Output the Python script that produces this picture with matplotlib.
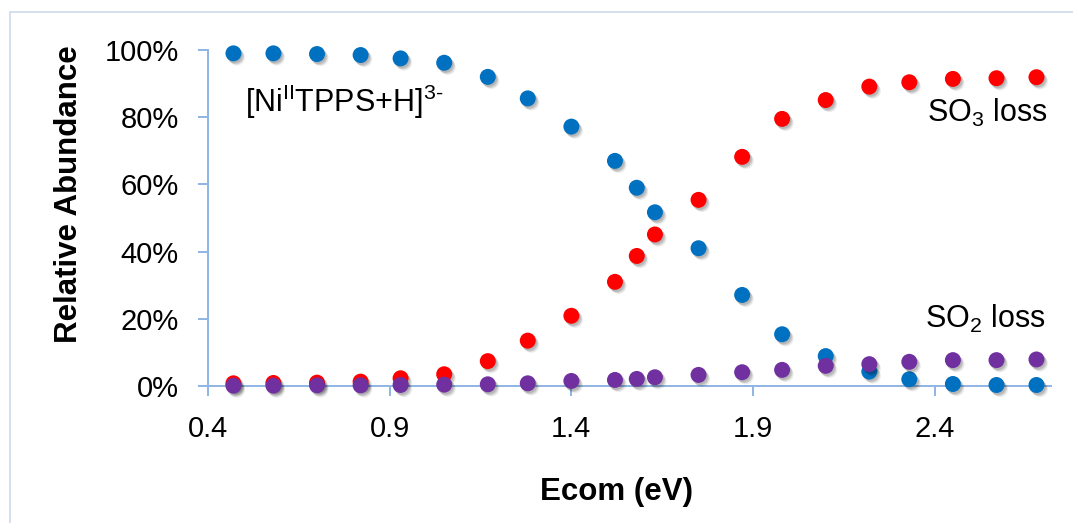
import matplotlib
matplotlib.use("Agg")
import matplotlib.pyplot as plt
import matplotlib.patheffects as pe
from matplotlib.ticker import PercentFormatter, FixedLocator, MultipleLocator
from matplotlib.patches import Rectangle

plt.rcParams["font.family"] = ["Liberation Sans", "DejaVu Sans"]
plt.rcParams["mathtext.fontset"] = "custom"
plt.rcParams["mathtext.rm"] = "Liberation Sans"
plt.rcParams["mathtext.it"] = "Liberation Sans"

# Collision energy (eV)
ecom = [0.47, 0.58, 0.70, 0.82, 0.93, 1.05, 1.17, 1.28, 1.40, 1.52, 1.58,
        1.63, 1.75, 1.87, 1.98, 2.10, 2.22, 2.33, 2.45, 2.57, 2.68]
# Relative abundances (fraction)
precursor = [0.990, 0.990, 0.988, 0.985, 0.975, 0.962, 0.920, 0.856, 0.772,
             0.670, 0.590, 0.517, 0.410, 0.271, 0.154, 0.089, 0.043, 0.020,
             0.006, 0.003, 0.003]
so3_loss = [0.008, 0.009, 0.010, 0.013, 0.023, 0.035, 0.074, 0.135, 0.209,
            0.310, 0.387, 0.451, 0.554, 0.682, 0.795, 0.851, 0.891, 0.904,
            0.914, 0.916, 0.919]
so2_loss = [0.001, 0.001, 0.002, 0.002, 0.003, 0.004, 0.005, 0.008, 0.015,
            0.018, 0.021, 0.026, 0.033, 0.041, 0.048, 0.060, 0.065, 0.072,
            0.077, 0.077, 0.079]

x_ticks = [0.4, 0.9, 1.4, 1.9, 2.4]

series = [
    (precursor, "#0070C0"),
    (so3_loss, "#FF0000"),
    (so2_loss, "#7030A0"),
]

W, H = 1073, 523
fig = plt.figure(figsize=(W / 100, H / 100), dpi=100)
fig.patch.set_facecolor("white")

# chart-area frame
fig.patches.append(Rectangle((10 / W, -0.05), 1.2, 1 - 12 / H + 0.05,
                             transform=fig.transFigure, fill=False,
                             edgecolor="#D0DBEA", linewidth=1.2))

ax = fig.add_axes([208 / W, 1 - 386 / H, (1051 - 208) / W, (386 - 50) / H])
ax.set_facecolor("none")

axis_color = "#8EB4E3"
for side in ("top", "right"):
    ax.spines[side].set_visible(False)
for side in ("left", "bottom"):
    ax.spines[side].set_color(axis_color)
    ax.spines[side].set_linewidth(1.4)

shadow = [
    pe.SimplePatchShadow(offset=(2.6, -3.0), shadow_rgbFace="#000000", alpha=0.07),
    pe.SimplePatchShadow(offset=(1.8, -2.2), shadow_rgbFace="#000000", alpha=0.12),
    pe.SimplePatchShadow(offset=(1.0, -1.4), shadow_rgbFace="#000000", alpha=0.12),
    pe.Normal(),
]

for values, color in series:
    ax.plot(ecom, values, linestyle="none", marker="o", markersize=11.5,
            markerfacecolor=color, markeredgewidth=0, clip_on=False,
            path_effects=shadow, zorder=3)

ax.set_xlim(0.4, 2.72)
ax.set_ylim(0, 1.0)
ax.xaxis.set_major_locator(FixedLocator(x_ticks))
ax.yaxis.set_major_locator(MultipleLocator(0.2))
ax.yaxis.set_major_formatter(PercentFormatter(1.0, decimals=0))
ax.xaxis.set_major_formatter(plt.FuncFormatter(lambda v, p: f"{v:.1f}"))

ax.tick_params(axis="both", colors=axis_color, labelcolor="black",
               labelsize=21, length=7, width=1.4, direction="out")
ax.tick_params(axis="y", pad=14)
ax.tick_params(axis="x", pad=14)

fig.text(69 / W, 1 - 194 / H, "Relative Abundance", fontsize=22.5,
         fontweight="bold", rotation=90, ha="center", va="center")
fig.text(617 / W, 1 - 492 / H, "Ecom (eV)", fontsize=22.5,
         fontweight="bold", ha="center", va="center")

fig.text(245 / W, 1 - 112 / H, r"[Ni$^{\mathrm{II}}$TPPS+H]$^{\text{3-}}$",
         fontsize=22, ha="left", va="baseline")
fig.text(1048 / W, 1 - 122 / H, r"SO$_{\mathrm{3}}$ loss",
         fontsize=22, ha="right", va="baseline")
fig.text(1046 / W, 1 - 328 / H, r"SO$_{\mathrm{2}}$ loss",
         fontsize=22, ha="right", va="baseline")

fig.savefig("out.png", dpi=100, facecolor="white")
